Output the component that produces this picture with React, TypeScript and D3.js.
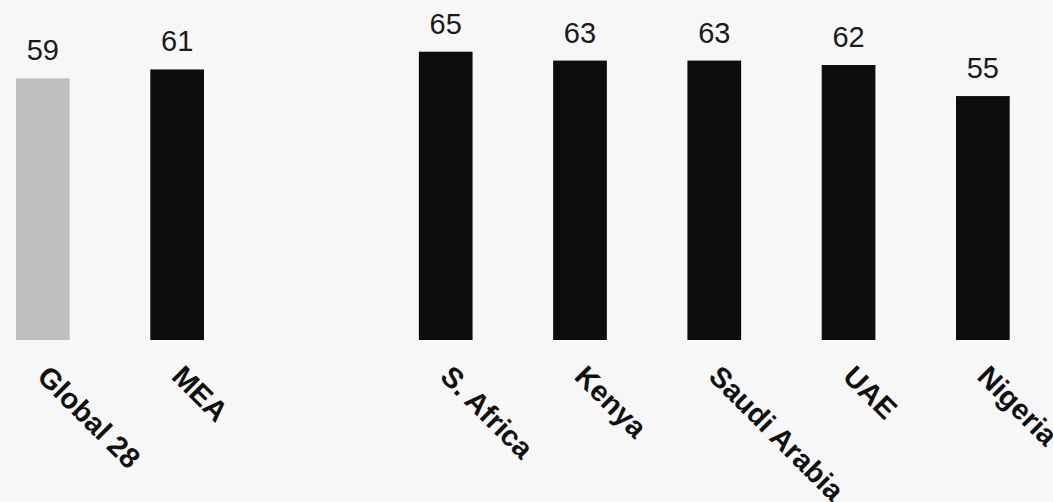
import React from "react";
import * as d3 from "d3";

const categories = ["Global 28", "MEA", "", "S. Africa", "Kenya", "Saudi Arabia", "UAE", "Nigeria"];
const values: (number | null)[] = [59, 61, null, 65, 63, 63, 62, 55];
const colors = ["#bfbfbf", "#0d0d0d", "#0d0d0d", "#0d0d0d", "#0d0d0d", "#0d0d0d", "#0d0d0d", "#0d0d0d"];

const W = 1053;
const H = 502;

export default function App() {
  const x = d3.scaleBand<string>()
    .domain(categories.map((c, i) => c || `gap${i}`))
    .range([16, 1009.7])
    .paddingInner(0.6)
    .paddingOuter(0);
  const y = d3.scaleLinear().domain([0, 65]).range([340, 51.7]);
  const font = "'Liberation Sans', Arial, sans-serif";
  return (
    <svg width={W} height={H} style={{ position: "absolute", left: 0, top: 0, background: "#f7f7f7" }}>
      <rect x={0} y={0} width={W} height={H} fill="#f7f7f7" />
      {categories.map((c, i) => {
        const v = values[i];
        if (v == null) return null;
        const key = c || `gap${i}`;
        const bx = x(key)!;
        const bw = x.bandwidth();
        const cx = bx + bw / 2;
        const lx = cx - 7;
        const ly = 378;
        return (
          <g key={key}>
            <rect x={bx} y={y(v)} width={bw} height={y(0) - y(v)} fill={colors[i]} />
            <text x={cx} y={y(v) - 18} textAnchor="middle" fontFamily={font} fontSize={29} fill="#1a1a1a">
              {v}
            </text>
            <text
              x={lx}
              y={ly}
              transform={`rotate(45 ${lx} ${ly})`}
              fontFamily={font}
              fontWeight="bold"
              fontSize={29}
              fill="#111"
            >
              {c}
            </text>
          </g>
        );
      })}
    </svg>
  );
}
